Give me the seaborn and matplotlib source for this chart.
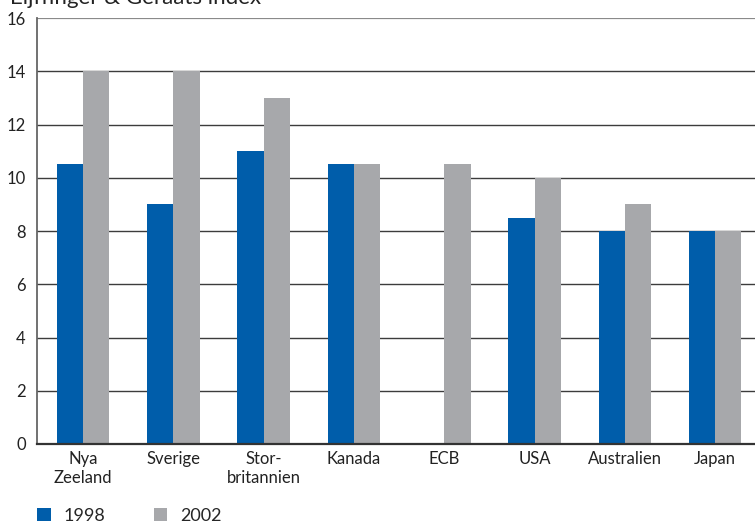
import matplotlib
matplotlib.use("Agg")
import matplotlib.pyplot as plt
from matplotlib.patches import Patch
import seaborn as sns
import pandas as pd
import numpy as np

countries = ["Nya\nZeeland", "Sverige", "Stor-\nbritannien", "Kanada", "ECB",
             "USA", "Australien", "Japan"]
values_1998 = [10.5, 9, 11, 10.5, np.nan, 8.5, 8, 8]
values_2002 = [14, 14, 13, 10.5, 10.5, 10, 9, 8]
years = ["1998", "2002"]
y_ticks = [0, 2, 4, 6, 8, 10, 12, 14, 16]
title = "Eijffinger & Geraats index"

colors = {"1998": "#005DAA", "2002": "#A7A8AB"}

df = pd.DataFrame({
    "land": countries * 2,
    "år": ["1998"] * len(countries) + ["2002"] * len(countries),
    "index": values_1998 + values_2002,
})

sns.set_theme(style="white")
plt.rcParams["font.family"] = ["Lato", "DejaVu Sans"]

fig = plt.figure(figsize=(7.55, 5.25), dpi=100)
ax = fig.add_axes([37 / 755, 1 - 444 / 525, 1 - 37 / 755, (444 - 18) / 525])

sns.barplot(data=df, x="land", y="index", hue="år", hue_order=years,
            palette=colors, width=0.58, saturation=1, ax=ax,
            legend=False, zorder=3, linewidth=0, edgecolor="none")

ax.set_ylim(0, 16)
ax.set_xlim(-0.51, 7.44)
ax.set_yticks(y_ticks)
ax.set_yticklabels([str(t) for t in y_ticks], fontsize=12, color="#222222")
ax.tick_params(axis="x", labelsize=12, colors="#222222", length=0, pad=5)
ax.tick_params(axis="y", length=0, pad=8)
ax.set_xlabel("")
ax.set_ylabel("")

for t in y_ticks[1:-1]:
    ax.axhline(t, color="#3c3c3c", lw=1.0, zorder=1)
ax.axhline(16, color="#8a8a8a", lw=1.6, zorder=1)

for side in ["top", "right"]:
    ax.spines[side].set_visible(False)
ax.spines["left"].set_color("#666666")
ax.spines["left"].set_linewidth(1.3)
ax.spines["bottom"].set_color("#333333")
ax.spines["bottom"].set_linewidth(1.6)
ax.spines["bottom"].set_zorder(4)

fig.text(0.013, 1 - 4 / 525, title, fontsize=16, color="#222222",
         va="baseline", ha="left")

handles = [Patch(facecolor=colors[y], edgecolor="none") for y in years]
fig.legend(handles, years, loc="lower left", bbox_to_anchor=(0.035, -0.018),
           ncol=2, frameon=False, fontsize=13, handlelength=0.75,
           handleheight=0.75, handletextpad=0.7, columnspacing=2.7,
           borderpad=0.1)

fig.savefig("out.png", dpi=100)
